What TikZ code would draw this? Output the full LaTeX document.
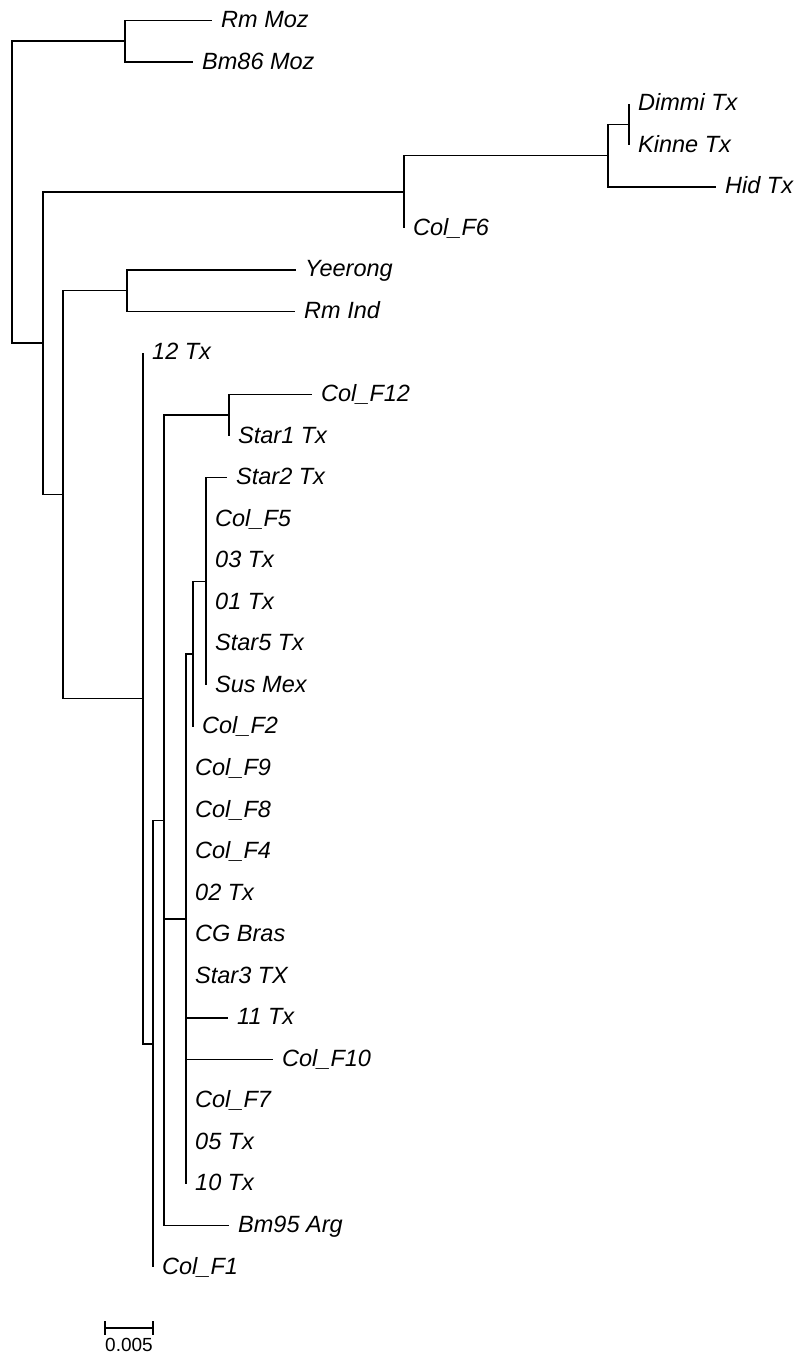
\documentclass[tikz,border=0pt]{standalone}
\usepackage{fontspec}
\setmainfont{Liberation Sans}

\begin{document}
\begin{tikzpicture}[x=1pt,y=-1pt]
\tikzset{
  treeedge/.style={draw=black,line width=1.6pt,line join=miter},
  taxon/.style={anchor=base west,inner sep=0pt,xshift=9pt,yshift=-7pt,font=\fontsize{23.5}{26}\selectfont\itshape},
  scalelabel/.style={anchor=base,inner sep=0pt,font=\fontsize{19}{22}\selectfont}
}
\useasboundingbox (0,0) rectangle (794,1357);
% internal nodes
\coordinate (n_root) at (12,192.2);
\coordinate (n_moz) at (125,41.25);
\coordinate (n_a) at (43,343.2);
\coordinate (n_b) at (404,192);
\coordinate (n_d) at (608,155.6);
\coordinate (n_e) at (629,124.4);
\coordinate (n_c) at (63,494.5);
\coordinate (n_f) at (127,290.6);
\coordinate (n_g) at (143,698.3);
\coordinate (n_h) at (153,1043.7);
\coordinate (n_i) at (164,820.4);
\coordinate (n_j) at (229,415.25);
\coordinate (n_k) at (186,919);
\coordinate (n_l) at (193,654.2);
\coordinate (n_m) at (206,581.5);
% tips
\coordinate (t_rm_moz) at (212,20.5);
\coordinate (t_bm86_moz) at (193,62);
\coordinate (t_dimmi) at (629,103.6);
\coordinate (t_kinne) at (629,145.2);
\coordinate (t_hid) at (716,186.7);
\coordinate (t_col_f6) at (404,228.3);
\coordinate (t_yeerong) at (296,269.8);
\coordinate (t_rm_ind) at (295,311.4);
\coordinate (t_12_tx) at (143,352.9);
\coordinate (t_col_f12) at (312,394.5);
\coordinate (t_star1) at (229,436);
\coordinate (t_star2) at (227,477.6);
\coordinate (t_col_f5) at (206,519.1);
\coordinate (t_03_tx) at (206,560.7);
\coordinate (t_01_tx) at (206,602.2);
\coordinate (t_star5) at (206,643.8);
\coordinate (t_sus_mex) at (206,685.3);
\coordinate (t_col_f2) at (193,726.9);
\coordinate (t_col_f9) at (186,768.4);
\coordinate (t_col_f8) at (186,810);
\coordinate (t_col_f4) at (186,851.5);
\coordinate (t_02_tx) at (186,893.1);
\coordinate (t_cg_bras) at (186,934.6);
\coordinate (t_star3) at (186,976.2);
\coordinate (t_11_tx) at (228,1017.7);
\coordinate (t_col_f10) at (273,1059.3);
\coordinate (t_col_f7) at (186,1100.8);
\coordinate (t_05_tx) at (186,1142.4);
\coordinate (t_10_tx) at (186,1183.9);
\coordinate (t_bm95_arg) at (229,1225.5);
\coordinate (t_col_f1) at (153,1267);
% labels
\node[taxon] (l_rm_moz) at (t_rm_moz) {Rm Moz};
\node[taxon] (l_bm86_moz) at (t_bm86_moz) {Bm86 Moz};
\node[taxon] (l_dimmi) at (t_dimmi) {Dimmi Tx};
\node[taxon] (l_kinne) at (t_kinne) {Kinne Tx};
\node[taxon] (l_hid) at (t_hid) {Hid Tx};
\node[taxon] (l_col_f6) at (t_col_f6) {Col\_F6};
\node[taxon] (l_yeerong) at (t_yeerong) {Yeerong};
\node[taxon] (l_rm_ind) at (t_rm_ind) {Rm Ind};
\node[taxon] (l_12_tx) at (t_12_tx) {12 Tx};
\node[taxon] (l_col_f12) at (t_col_f12) {Col\_F12};
\node[taxon] (l_star1) at (t_star1) {Star1 Tx};
\node[taxon] (l_star2) at (t_star2) {Star2 Tx};
\node[taxon] (l_col_f5) at (t_col_f5) {Col\_F5};
\node[taxon] (l_03_tx) at (t_03_tx) {03 Tx};
\node[taxon] (l_01_tx) at (t_01_tx) {01 Tx};
\node[taxon] (l_star5) at (t_star5) {Star5 Tx};
\node[taxon] (l_sus_mex) at (t_sus_mex) {Sus Mex};
\node[taxon] (l_col_f2) at (t_col_f2) {Col\_F2};
\node[taxon] (l_col_f9) at (t_col_f9) {Col\_F9};
\node[taxon] (l_col_f8) at (t_col_f8) {Col\_F8};
\node[taxon] (l_col_f4) at (t_col_f4) {Col\_F4};
\node[taxon] (l_02_tx) at (t_02_tx) {02 Tx};
\node[taxon] (l_cg_bras) at (t_cg_bras) {CG Bras};
\node[taxon] (l_star3) at (t_star3) {Star3 TX};
\node[taxon] (l_11_tx) at (t_11_tx) {11 Tx};
\node[taxon] (l_col_f10) at (t_col_f10) {Col\_F10};
\node[taxon] (l_col_f7) at (t_col_f7) {Col\_F7};
\node[taxon] (l_05_tx) at (t_05_tx) {05 Tx};
\node[taxon] (l_10_tx) at (t_10_tx) {10 Tx};
\node[taxon] (l_bm95_arg) at (t_bm95_arg) {Bm95 Arg};
\node[taxon] (l_col_f1) at (t_col_f1) {Col\_F1};
% branches
\draw[treeedge] (n_root) |- (n_moz);
\draw[treeedge] (n_root) |- (n_a);
\draw[treeedge] (n_moz) |- (t_rm_moz);
\draw[treeedge] (n_moz) |- (t_bm86_moz);
\draw[treeedge] (n_a) |- (n_b);
\draw[treeedge] (n_a) |- (n_c);
\draw[treeedge] (n_b) |- (n_d);
\draw[treeedge] (n_b) |- (t_col_f6);
\draw[treeedge] (n_d) |- (n_e);
\draw[treeedge] (n_d) |- (t_hid);
\draw[treeedge] (n_e) |- (t_dimmi);
\draw[treeedge] (n_e) |- (t_kinne);
\draw[treeedge] (n_c) |- (n_f);
\draw[treeedge] (n_c) |- (n_g);
\draw[treeedge] (n_f) |- (t_yeerong);
\draw[treeedge] (n_f) |- (t_rm_ind);
\draw[treeedge] (n_g) |- (t_12_tx);
\draw[treeedge] (n_g) |- (n_h);
\draw[treeedge] (n_h) |- (n_i);
\draw[treeedge] (n_h) |- (t_col_f1);
\draw[treeedge] (n_i) |- (n_j);
\draw[treeedge] (n_i) |- (n_k);
\draw[treeedge] (n_i) |- (t_bm95_arg);
\draw[treeedge] (n_j) |- (t_col_f12);
\draw[treeedge] (n_j) |- (t_star1);
\draw[treeedge] (n_k) |- (n_l);
\draw[treeedge] (n_k) |- (t_11_tx);
\draw[treeedge] (n_k) |- (t_col_f10);
\draw[treeedge] (n_k) |- (t_10_tx);
\draw[treeedge] (n_l) |- (n_m);
\draw[treeedge] (n_l) |- (t_col_f2);
\draw[treeedge] (n_m) |- (t_star2);
\draw[treeedge] (n_m) |- (t_sus_mex);
% scale bar
\coordinate (s_left) at (105,1328);
\coordinate (s_right) at (153,1328);
\draw[treeedge] ([yshift=7pt]s_left) -- ([yshift=-7pt]s_left);
\draw[treeedge] ([yshift=7pt]s_right) -- ([yshift=-7pt]s_right);
\draw[treeedge] (s_left) -- (s_right);
\node[scalelabel] (l_scale) at (129,1351) {0.005};
\end{tikzpicture}
\end{document}
